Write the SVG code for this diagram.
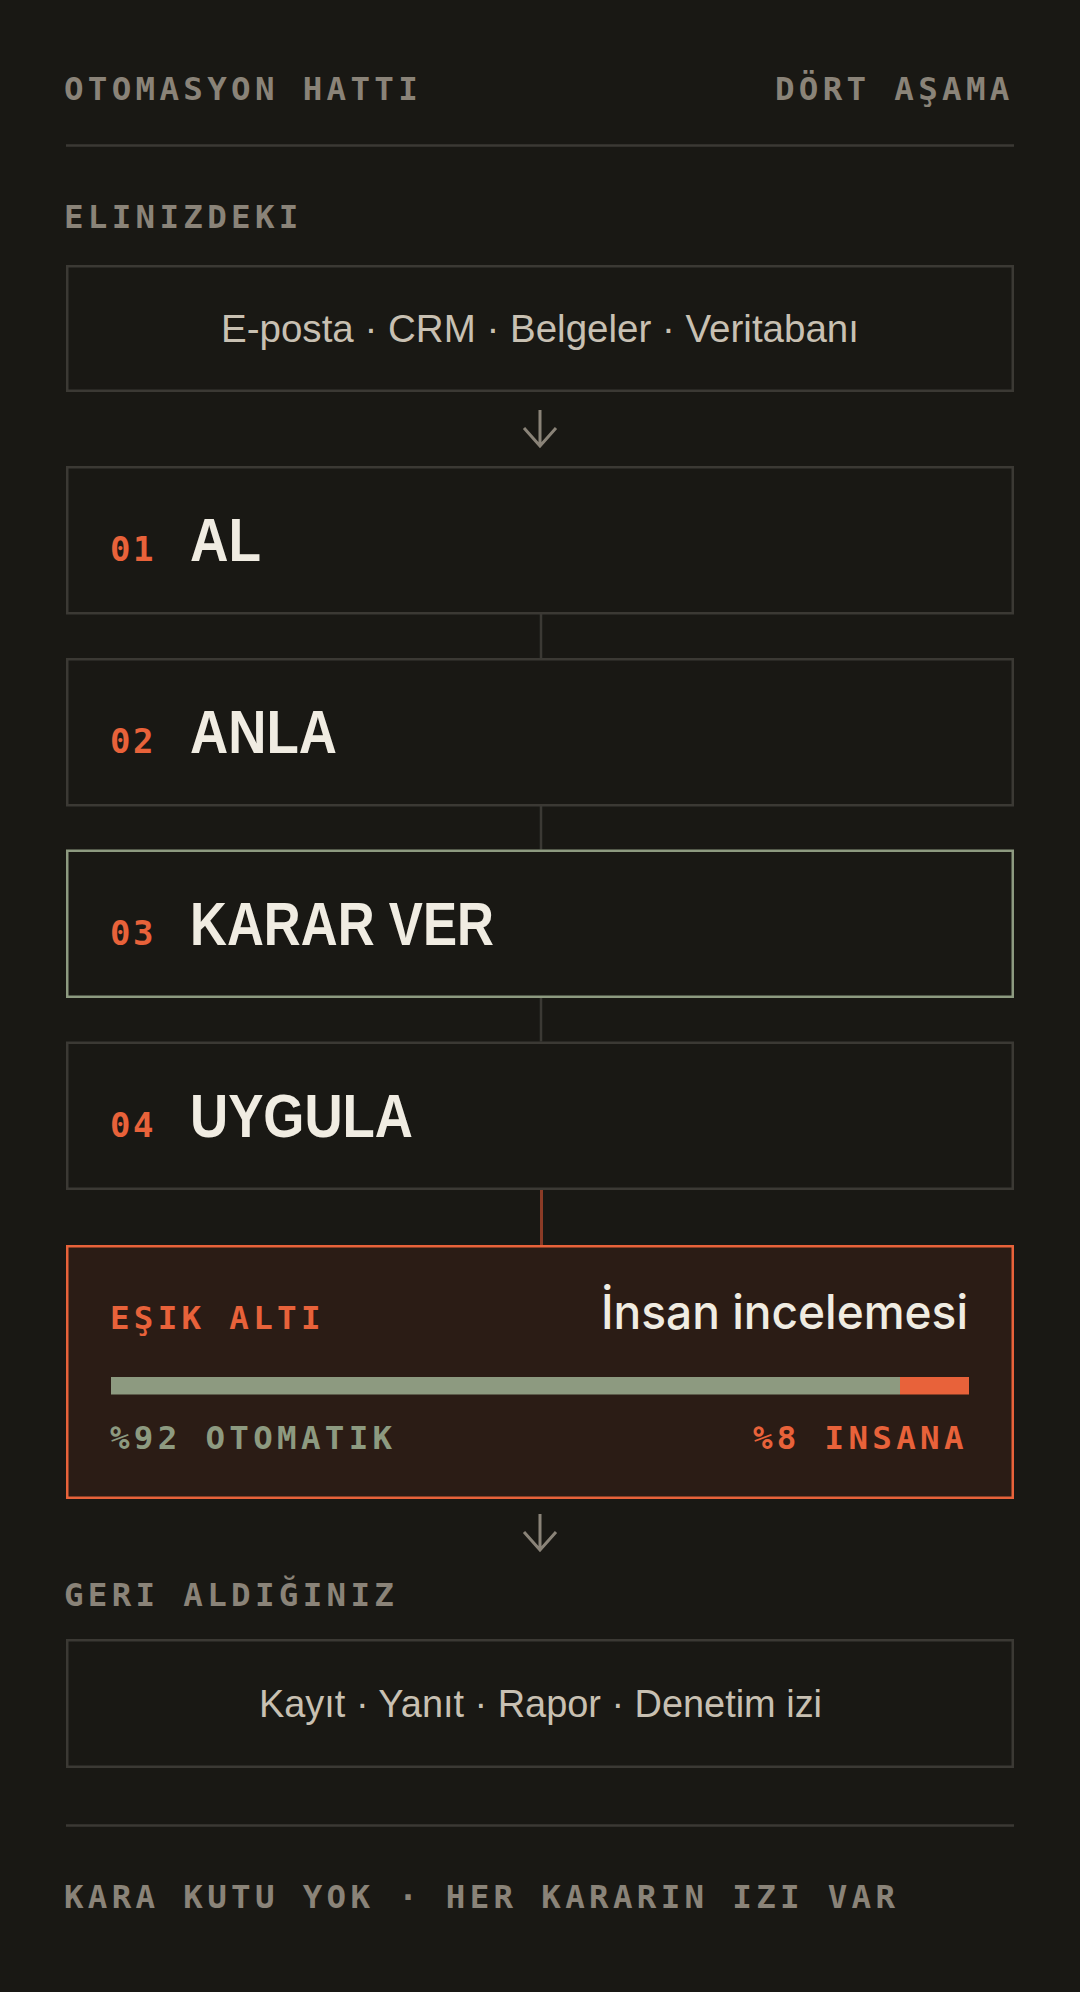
<svg xmlns="http://www.w3.org/2000/svg" width="1080" height="1992" viewBox="0 0 1080 1992">
<defs>
<style>
.mono{font-family:"DejaVu Sans Mono","Liberation Mono",monospace;font-size:32.5px;font-weight:bold;letter-spacing:4.3px;}
.muted{fill:#8a8378;}
.num{font-family:"DejaVu Sans Mono","Liberation Mono",monospace;font-size:34px;font-weight:bold;letter-spacing:2.5px;fill:#e8623a;}
.title{font-family:"Liberation Sans Narrow","Liberation Sans",Arial,sans-serif;font-size:61px;font-weight:bold;fill:#f0ece2;}
.list{font-family:"Liberation Sans",Arial,sans-serif;font-size:39px;fill:#c8c0b2;}
.box{fill:#191814;stroke:#3b3934;stroke-width:2.5;}
.rule{stroke:#3b3934;stroke-width:2.5;}
.conn{stroke:#3b3934;stroke-width:2.5;fill:none;}
.arrow{stroke:#8a8378;stroke-width:3;fill:none;stroke-linecap:butt;}
</style>
</defs>
<rect x="0" y="0" width="1080" height="1992" fill="#191814"/>

<g id="header">
<text class="mono muted" x="64" y="100">OTOMASYON HATTI</text>
<text class="mono muted" x="775" y="100">DÖRT AŞAMA</text>
<line class="rule" x1="66" y1="145.5" x2="1014" y2="145.5"/>
</g>

<g id="input-label">
<text class="mono muted" x="64" y="228">ELINIZDEKI</text>
</g>

<g id="input">
<rect class="box" x="67.25" y="266.25" width="945.5" height="124.5"/>
<text class="list" x="540" y="342" text-anchor="middle" textLength="638" lengthAdjust="spacingAndGlyphs">E-posta · CRM · Belgeler · Veritabanı</text>
</g>

<g id="connectors">
<path class="arrow" d="M540 410 V446 M524 428 L540 446 L556 428"/>
<line class="conn" x1="541" y1="614" x2="541" y2="658"/>
<line class="conn" x1="541" y1="806" x2="541" y2="849.5"/>
<line class="conn" x1="541" y1="998" x2="541" y2="1041.5"/>
<line x1="541.5" y1="1190" x2="541.5" y2="1245" stroke="#8b3b26" stroke-width="3"/>
<path class="arrow" d="M540 1514 V1550 M524 1532 L540 1550 L556 1532"/>
</g>

<g id="step1">
<rect class="box" x="67.25" y="467.25" width="945.5" height="146"/>
<text class="num" x="110" y="561">01</text>
<text class="title" x="190" y="561" textLength="71" lengthAdjust="spacingAndGlyphs">AL</text>
</g>

<g id="step2">
<rect class="box" x="67.25" y="659.25" width="945.5" height="146"/>
<text class="num" x="110" y="753">02</text>
<text class="title" x="190" y="753" textLength="147" lengthAdjust="spacingAndGlyphs">ANLA</text>
</g>

<g id="step3">
<rect x="67.25" y="850.75" width="945.5" height="146" fill="#191814" stroke="#8d9a80" stroke-width="2.5"/>
<text class="num" x="110" y="945">03</text>
<text class="title" x="190" y="945" textLength="304" lengthAdjust="spacingAndGlyphs">KARAR VER</text>
</g>

<g id="step4">
<rect class="box" x="67.25" y="1042.75" width="945.5" height="146"/>
<text class="num" x="110" y="1137">04</text>
<text class="title" x="190" y="1137" textLength="223" lengthAdjust="spacingAndGlyphs">UYGULA</text>
</g>

<g id="threshold">
<rect x="67.25" y="1246.25" width="945.5" height="251.5" fill="#2b1c15" stroke="#e8623a" stroke-width="2.5"/>
<text class="mono" x="110" y="1329" fill="#e8623a">EŞIK ALTI</text>
<text x="968" y="1329" text-anchor="end" font-family="Inter,'Liberation Sans',sans-serif" font-size="48" font-weight="500" fill="#f0ece2" textLength="367" lengthAdjust="spacingAndGlyphs">İnsan incelemesi</text>
<rect x="111" y="1377" width="789" height="17.5" fill="#8d9a80"/>
<rect x="900" y="1377" width="69" height="17.5" fill="#e8623a"/>
<text class="mono" x="110" y="1449" fill="#8d9a80">%92 OTOMATIK</text>
<text class="mono" x="753" y="1449" fill="#e8623a">%8 INSANA</text>
</g>

<g id="output-label">
<text class="mono muted" x="64" y="1606">GERI ALDIĞINIZ</text>
</g>

<g id="output">
<rect class="box" x="67.25" y="1640.25" width="945.5" height="126.5"/>
<text class="list" x="540.5" y="1717" text-anchor="middle" textLength="563" lengthAdjust="spacingAndGlyphs">Kayıt · Yanıt · Rapor · Denetim izi</text>
</g>

<g id="footer">
<line class="rule" x1="66" y1="1825.5" x2="1014" y2="1825.5"/>
<text class="mono muted" x="64" y="1908">KARA KUTU YOK · HER KARARIN IZI VAR</text>
</g>
</svg>
